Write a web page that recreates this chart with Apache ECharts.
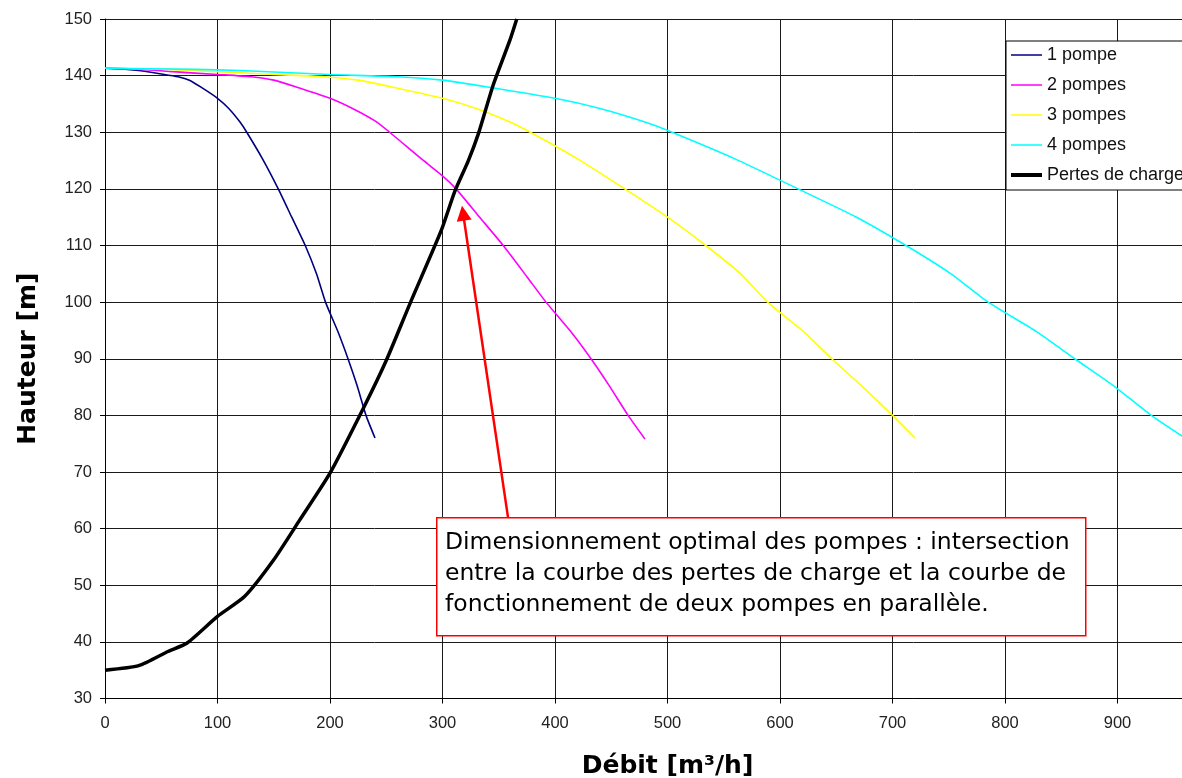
<!DOCTYPE html>
<html>
<head>
<meta charset="utf-8">
<title>Courbes des pompes</title>
<script src="https://cdn.jsdelivr.net/npm/echarts@6/dist/echarts.min.js"></script>
<style>
    html, body { margin: 0; padding: 0; background: #fff; }
    #main { width: 1182px; height: 778px; }
</style>
</head>
<body>
<div id="main"></div>
<script>
// noms des courbes
var seriesNames = ['1 pompe', '2 pompes', '3 pompes', '4 pompes', 'Pertes de charge'];

// [débit m3/h, hauteur m]
var unePompe = [[0, 141.3], [20, 141.1], [30, 140.9], [50, 140.3], [65, 139.8], [75, 139.2], [85, 138],
    [100, 136], [110, 134.2], [120, 131.8], [126, 130], [140, 125.3], [154, 120], [166, 115],
    [178, 110], [188, 105], [196, 100], [207, 94.8], [216, 90], [224, 85.3], [232, 80], [240, 76]];
var deuxPompes = [[0, 141.4], [40, 141], [60, 140.7], [100, 140.2], [130, 139.8], [150, 139.2], [170, 138],
    [200, 136], [220, 134.2], [240, 132], [253, 130], [280, 125.5], [300, 122.3], [312, 120], [333, 115],
    [354, 110], [375, 104.5], [392, 100], [414, 94.8], [432, 90], [448, 85.3], [465, 80], [480, 75.8]];
var troisPompes = [[0, 141.3], [60, 141.1], [90, 140.8], [150, 140.2], [195, 139.8], [225, 139.2], [255, 138],
    [300, 136], [330, 134.2], [360, 131.8], [378, 130], [420, 125.3], [462, 120], [500, 115],
    [534, 110], [565, 105], [589, 100], [621, 94.8], [646, 90], [672, 85.3], [700, 80], [720, 76]];
var quatrePompes = [[0, 141.3], [80, 141.1], [120, 140.9], [200, 140.2], [260, 139.8], [300, 139.2], [340, 138],
    [400, 136], [440, 134.2], [480, 131.8], [504, 130], [560, 125.3], [616, 120], [668, 115],
    [712, 110], [752, 105], [785, 100], [828, 94.8], [862, 90], [896, 85.3], [930, 80], [960, 76]];
var pertesCharge = [[0, 35], [30, 35.8], [56, 38.3], [73, 39.8], [100, 44.5], [124, 48], [150, 54.5],
    [173, 61.5], [200, 69.8], [230, 81.4], [250, 89.7], [271, 99.7], [299, 112.7], [311, 119.6],
    [323, 125], [332, 129.8], [345, 138.3], [360, 146.3], [366, 150]];

var noteLines = [
    'Dimensionnement optimal des pompes : intersection',
    'entre la courbe des pertes de charge et la courbe de',
    'fonctionnement de deux pompes en parallèle.'
];
// flèche rouge, en coordonnées du graphique
var arrowFrom = [358.3, 61.9];
var arrowTo = [318.3, 115.7];

var colors = ['#000080', '#ff00ff', '#ffff00', '#00ffff', '#000000'];
var allData = [unePompe, deuxPompes, troisPompes, quatrePompes, pertesCharge];
var tickFont = 'Liberation Sans';

var myChart = echarts.init(document.getElementById('main'));

var series = seriesNames.map(function (name, i) {
    var s = {
        name: name,
        type: 'line',
        data: allData[i],
        symbol: 'none',
        smooth: 0.2,
        animation: false,
        color: colors[i],
        lineStyle: { color: colors[i], width: i === 4 ? 3.5 : 1.6 },
        z: 3 + i
    };
    if (i === 1) {
        s.markLine = {
            silent: true,
            animation: false,
            symbol: ['none', 'triangle'],
            symbolSize: [15, 15],
            label: { show: false },
            lineStyle: { color: '#ff0000', width: 2.5, type: 'solid' },
            data: [[{ coord: arrowFrom }, { coord: arrowTo }]]
        };
    }
    return s;
});

option = {
    backgroundColor: '#fff',
    animation: false,
    // la zone du graphique déborde à droite, comme sur l'original
    grid: {
        left: 105,
        top: 19,
        width: 1125,
        bottom: 79.5,
        outerBoundsMode: 'none'
    },
    legend: {
        left: 1006,
        top: 41,
        orient: 'vertical',
        backgroundColor: '#fff',
        borderColor: '#000',
        borderWidth: 1,
        padding: [5, 40, 6, 5],
        itemWidth: 31,
        itemHeight: 14,
        itemGap: 12,
        itemStyle: { borderWidth: 0 },
        textStyle: { fontFamily: tickFont, fontSize: 18, lineHeight: 18, color: '#111' },
        data: seriesNames.map(function (n, i) {
            return { name: n, icon: i === 4 ? 'path://M0,0H31V4H0Z' : 'path://M0,0H31V1.5H0Z' };
        })
    },
    xAxis: {
        type: 'value',
        min: 0,
        max: 1000,
        interval: 100,
        name: 'Débit [m³/h]',
        nameLocation: 'middle',
        nameGap: 55,
        nameTextStyle: { fontFamily: 'DejaVu Sans', fontWeight: 'bold', fontSize: 25, color: '#000' },
        axisLine: { lineStyle: { color: '#000', width: 1 } },
        axisTick: { show: true, length: 5, lineStyle: { color: '#000' } },
        axisLabel: { margin: 16, fontFamily: tickFont, fontSize: 16.5, color: '#222' },
        splitLine: { show: true, lineStyle: { color: '#1a1a1a', width: 1 } }
    },
    yAxis: {
        type: 'value',
        min: 30,
        max: 150,
        interval: 10,
        name: 'Hauteur [m]',
        nameLocation: 'middle',
        nameGap: 64,
        nameTextStyle: { fontFamily: 'DejaVu Sans', fontWeight: 'bold', fontSize: 25, color: '#000' },
        axisLine: { show: true, lineStyle: { color: '#000', width: 1 } },
        axisTick: { show: true, length: 5, lineStyle: { color: '#000' } },
        axisLabel: { margin: 13, fontFamily: tickFont, fontSize: 16.5, color: '#222' },
        splitLine: { show: true, lineStyle: { color: '#1a1a1a', width: 1 } }
    },
    graphic: [{
        type: 'rect',
        left: 436,
        top: 517,
        z: 100,
        shape: { x: 0, y: 0, width: 649, height: 118 },
        style: { fill: '#fff', stroke: '#ff0000', lineWidth: 1.5 }
    }, {
        type: 'text',
        left: 445,
        top: 527,
        z: 101,
        style: {
            text: noteLines.join('\n'),
            fontFamily: 'DejaVu Sans',
            fontSize: 23.5,
            lineHeight: 31,
            fill: '#000'
        }
    }],
    series: series
};

myChart.setOption(option);
</script>
</body>
</html>
